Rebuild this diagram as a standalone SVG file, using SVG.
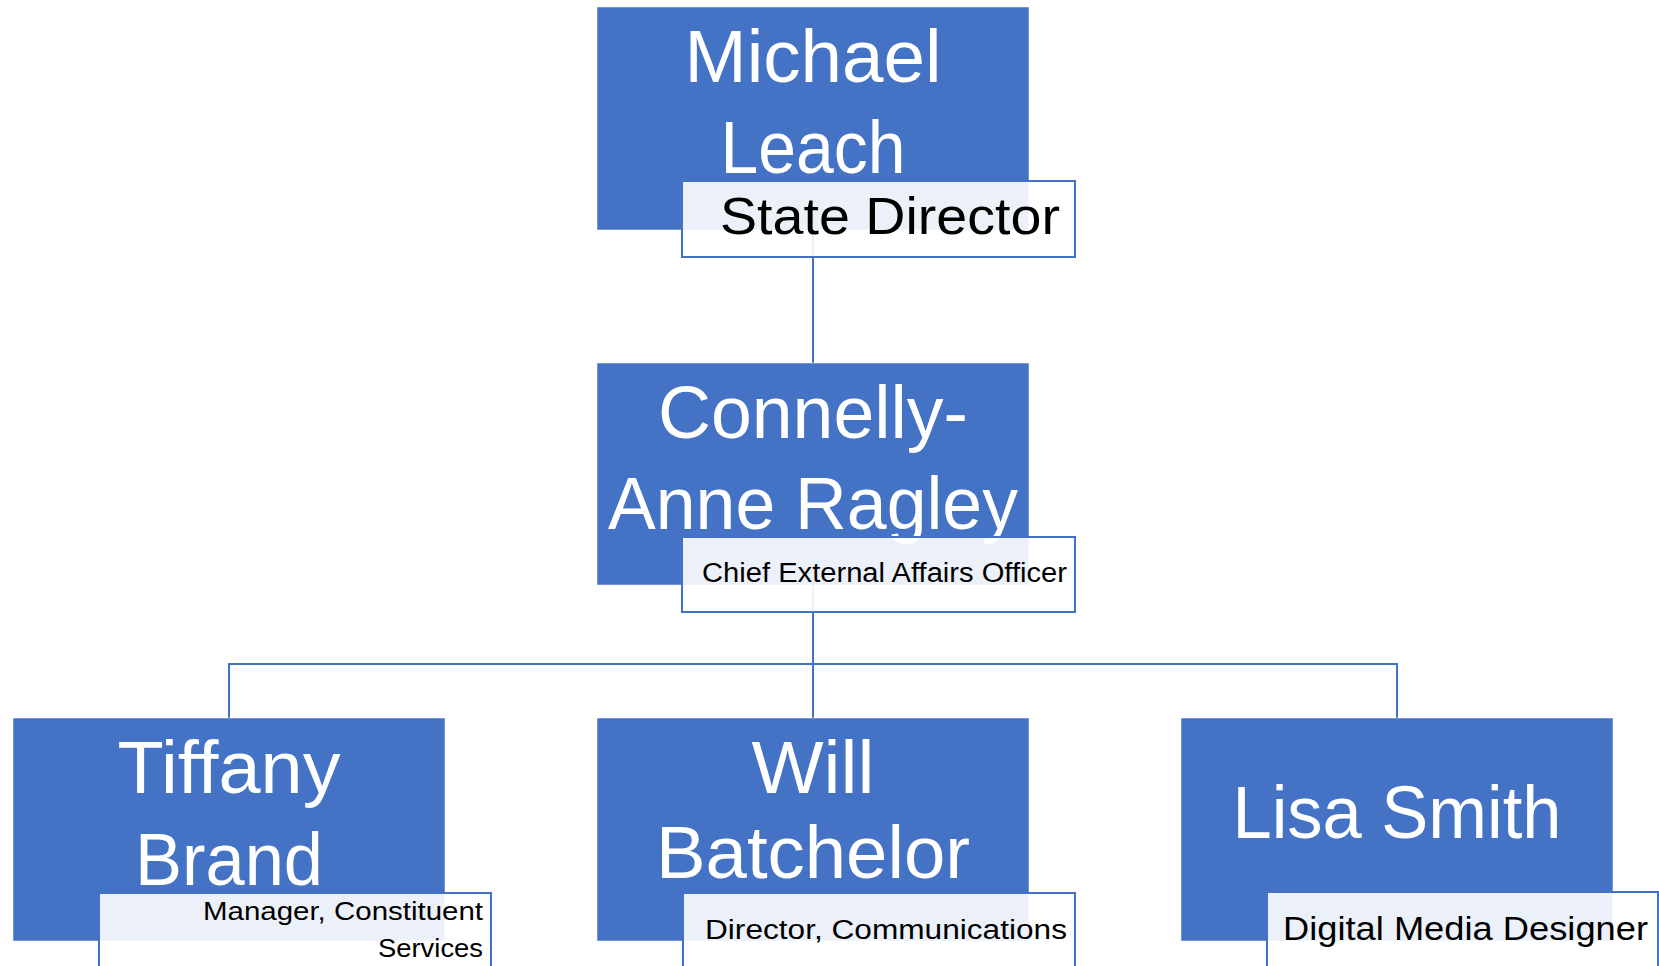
<svg xmlns="http://www.w3.org/2000/svg" width="1659" height="966" viewBox="0 0 1659 966">
<style>
.box{fill:#4472C4;stroke:#ffffff;stroke-opacity:0.5;stroke-width:1}
.tbox{fill:#ffffff;fill-opacity:0.9;stroke:#4472C4;stroke-width:2}
.name{font-family:"Liberation Sans",Arial,sans-serif;font-size:74px;fill:#ffffff;text-anchor:middle}
.title{font-family:"Liberation Sans",Arial,sans-serif;fill:#000000}
.conn{fill:none;stroke:#4472C4;stroke-width:2}
</style>
<rect width="1659" height="966" fill="#ffffff"/>
<g id="connectors">
<path class="conn" d="M813 230V363"/>
<path class="conn" d="M813 585V718"/>
<path class="conn" d="M229 718V664H1397V718"/>
</g>
<g id="node-michael">
<rect class="box" x="597" y="7" width="432" height="223"/>
<text class="name" x="813" y="82" textLength="257" lengthAdjust="spacingAndGlyphs">Michael</text>
<text class="name" x="813" y="173" textLength="185" lengthAdjust="spacingAndGlyphs">Leach</text>
<rect class="tbox" x="682" y="181" width="393" height="76"/>
<text class="title" x="720" y="234" font-size="52" textLength="340" lengthAdjust="spacingAndGlyphs">State Director</text>
</g>
<g id="node-connelly">
<rect class="box" x="597" y="363" width="432" height="222"/>
<text class="name" x="813" y="438" textLength="310" lengthAdjust="spacingAndGlyphs">Connelly-</text>
<text class="name" x="813" y="529" textLength="410" lengthAdjust="spacingAndGlyphs">Anne Ragley</text>
<rect class="tbox" x="682" y="537" width="393" height="75"/>
<text class="title" x="702" y="582" font-size="27" textLength="365" lengthAdjust="spacingAndGlyphs">Chief External Affairs Officer</text>
</g>
<g id="node-tiffany">
<rect class="box" x="13" y="718" width="432" height="223"/>
<text class="name" x="229" y="793" textLength="223" lengthAdjust="spacingAndGlyphs">Tiffany</text>
<text class="name" x="229" y="885" textLength="188" lengthAdjust="spacingAndGlyphs">Brand</text>
<rect class="tbox" x="99" y="893" width="392" height="76"/>
<text class="title" x="483" y="920" font-size="25" text-anchor="end" textLength="280" lengthAdjust="spacingAndGlyphs">Manager, Constituent</text>
<text class="title" x="483" y="957" font-size="25" text-anchor="end" textLength="105" lengthAdjust="spacingAndGlyphs">Services</text>
</g>
<g id="node-will">
<rect class="box" x="597" y="718" width="432" height="223"/>
<text class="name" x="813" y="793" textLength="123" lengthAdjust="spacingAndGlyphs">Will</text>
<text class="name" x="813" y="878" textLength="314" lengthAdjust="spacingAndGlyphs">Batchelor</text>
<rect class="tbox" x="683" y="893" width="392" height="76"/>
<text class="title" x="705" y="939" font-size="27" textLength="362" lengthAdjust="spacingAndGlyphs">Director, Communications</text>
</g>
<g id="node-lisa">
<rect class="box" x="1181" y="718" width="432" height="223"/>
<text class="name" x="1397" y="838" textLength="329" lengthAdjust="spacingAndGlyphs">Lisa Smith</text>
<rect class="tbox" x="1267" y="892" width="391" height="77"/>
<text class="title" x="1283" y="940" font-size="33" textLength="365" lengthAdjust="spacingAndGlyphs">Digital Media Designer</text>
</g>
</svg>
